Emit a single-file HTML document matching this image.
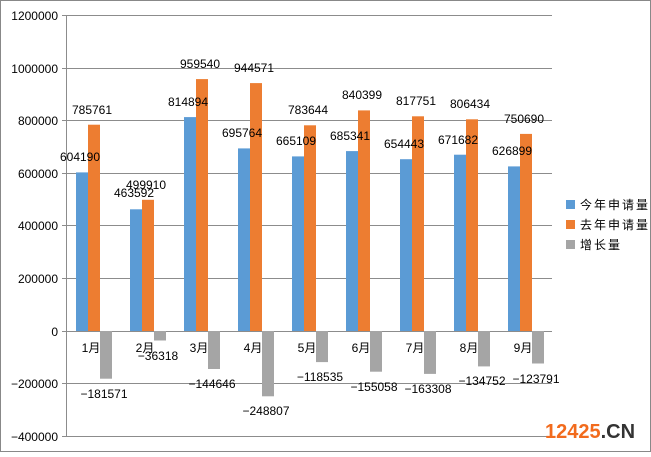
<!DOCTYPE html>
<html><head><meta charset="utf-8"><style>
html,body{margin:0;padding:0;background:#fff}
svg text{font-family:"Liberation Sans","Noto Sans CJK SC",sans-serif;font-size:12px;fill:#000}
</style></head><body>
<svg width="651" height="452" viewBox="0 0 651 452" xmlns="http://www.w3.org/2000/svg">
<rect x="0.5" y="0.5" width="650" height="451" fill="#fff" stroke="#888"/>
<g stroke="#8c8c8c" stroke-width="1">
<line x1="62" y1="15.5" x2="552" y2="15.5"/>
<line x1="62" y1="68.5" x2="552" y2="68.5"/>
<line x1="62" y1="120.5" x2="552" y2="120.5"/>
<line x1="62" y1="173.5" x2="552" y2="173.5"/>
<line x1="62" y1="225.5" x2="552" y2="225.5"/>
<line x1="62" y1="278.5" x2="552" y2="278.5"/>
<line x1="62" y1="331.5" x2="552" y2="331.5"/>
<line x1="62" y1="383.5" x2="552" y2="383.5"/>
<line x1="62" y1="436.5" x2="552" y2="436.5"/>
<line x1="66.5" y1="15" x2="66.5" y2="436"/>
</g>
<g text-anchor="end">
<text x="58" y="20">1200000</text>
<text x="58" y="73">1000000</text>
<text x="58" y="125">800000</text>
<text x="58" y="178">600000</text>
<text x="58" y="230">400000</text>
<text x="58" y="283">200000</text>
<text x="58" y="336">0</text>
<text x="58" y="388">−200000</text>
<text x="58" y="441">−400000</text>
</g>
<g fill="#5b9bd5">
<rect x="76" y="172.4" width="12" height="158.6"/>
<rect x="130" y="209.3" width="12" height="121.7"/>
<rect x="184" y="117.1" width="12" height="213.9"/>
<rect x="238" y="148.4" width="12" height="182.6"/>
<rect x="292" y="156.4" width="12" height="174.6"/>
<rect x="346" y="151.1" width="12" height="179.9"/>
<rect x="400" y="159.2" width="12" height="171.8"/>
<rect x="454" y="154.7" width="12" height="176.3"/>
<rect x="508" y="166.4" width="12" height="164.6"/>
</g>
<g fill="#ed7d31">
<rect x="88" y="124.7" width="12" height="206.3"/>
<rect x="142" y="199.8" width="12" height="131.2"/>
<rect x="196" y="79.1" width="12" height="251.9"/>
<rect x="250" y="83.1" width="12" height="247.9"/>
<rect x="304" y="125.3" width="12" height="205.7"/>
<rect x="358" y="110.4" width="12" height="220.6"/>
<rect x="412" y="116.3" width="12" height="214.7"/>
<rect x="466" y="119.3" width="12" height="211.7"/>
<rect x="520" y="133.9" width="12" height="197.1"/>
</g>
<g fill="#a5a5a5">
<rect x="100" y="331" width="12" height="47.7"/>
<rect x="154" y="331" width="12" height="9.5"/>
<rect x="208" y="331" width="12" height="38"/>
<rect x="262" y="331" width="12" height="65.3"/>
<rect x="316" y="331" width="12" height="31.1"/>
<rect x="370" y="331" width="12" height="40.7"/>
<rect x="424" y="331" width="12" height="42.9"/>
<rect x="478" y="331" width="12" height="35.4"/>
<rect x="532" y="331" width="12" height="32.5"/>
</g>
<g text-anchor="middle">
<text x="91" y="352">1月</text><text x="145" y="352">2月</text><text x="199" y="352">3月</text>
<text x="253" y="352">4月</text><text x="307" y="352">5月</text><text x="361" y="352">6月</text>
<text x="415" y="352">7月</text><text x="469" y="352">8月</text><text x="523" y="352">9月</text>

<text x="80" y="161">604190</text><text x="134" y="197">463592</text><text x="188" y="106">814894</text>
<text x="242" y="137">695764</text><text x="296" y="145">665109</text><text x="350" y="140">685341</text>
<text x="404" y="148">654443</text><text x="458" y="144">671682</text><text x="512" y="155">626899</text>

<text x="92" y="114">785761</text><text x="146" y="189">499910</text><text x="200" y="68">959540</text>
<text x="254" y="72">944571</text><text x="308" y="114">783644</text><text x="362" y="99">840399</text>
<text x="416" y="105">817751</text><text x="470" y="108">806434</text><text x="524" y="123">750690</text>

<text x="104" y="398">−181571</text><text x="158" y="360">−36318</text><text x="212" y="388">−144646</text>
<text x="266" y="415">−248807</text><text x="320" y="381">−118535</text><text x="374" y="391">−155058</text>
<text x="428" y="393">−163308</text><text x="482" y="385">−134752</text><text x="536" y="383">−123791</text>
</g>
<g>
<rect x="566" y="200" width="9" height="9" fill="#5b9bd5"/>
<rect x="566" y="220" width="9" height="9" fill="#ed7d31"/>
<rect x="566" y="240" width="9" height="9" fill="#a5a5a5"/>
<text x="580" y="209" style="letter-spacing:2px">今年申请量</text>
<text x="580" y="229" style="letter-spacing:2px">去年申请量</text>
<text x="580" y="249" style="letter-spacing:2px">增长量</text>
</g>
<text x="545" y="438" style="font-size:20px;font-weight:bold;fill:#f26b1d">12425<tspan style="fill:#333">.CN</tspan></text>
</svg>
</body></html>
